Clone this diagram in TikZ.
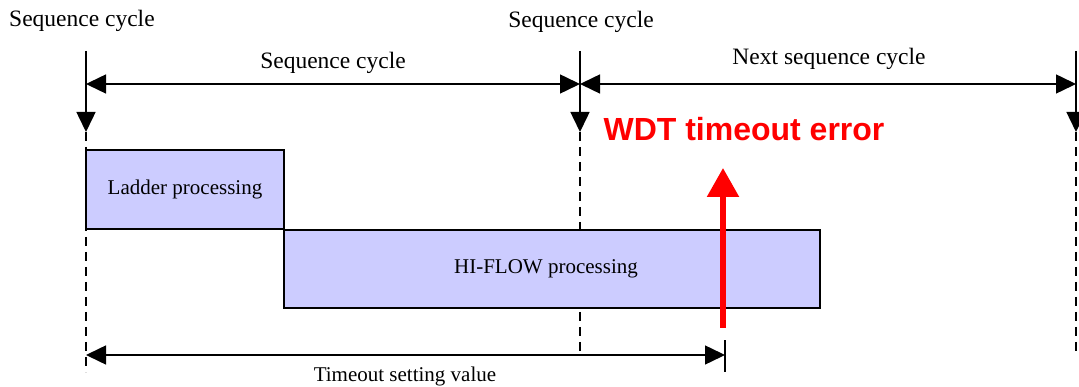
\documentclass[tikz,border=0pt]{standalone}
\usepackage{fontspec}
\setmainfont{Liberation Serif}
\newfontfamily\wdtfont{Liberation Sans}
\usetikzlibrary{arrows.meta}
\definecolor{procfill}{HTML}{CCCCFF}
\definecolor{wdtred}{HTML}{FF0000}
\begin{document}
\begin{tikzpicture}[x=1pt,y=-1pt,
 ln/.style={line width=1.5pt},
 dashln/.style={line width=1.3pt,dash pattern=on 9pt off 6pt},
 downtip/.style={-{Triangle[length=20pt,width=19pt]}},
 dtip/.style={{Triangle[length=20pt,width=19pt]}-{Triangle[length=20pt,width=19pt]}},
 proc/.style={draw,line width=1.5pt,fill=procfill,inner sep=0pt,font=\fontsize{21}{24}\selectfont},
 lbl/.style={inner sep=0pt,font=\fontsize{23.5}{26}\selectfont},
 slbl/.style={inner sep=0pt,font=\fontsize{21}{24}\selectfont}]
\useasboundingbox (0,0) rectangle (1079,387);
% coordinates
\coordinate (Ltop) at (86,51);
\coordinate (Ltip) at (86,132);
\coordinate (Lbot) at (86,372);
\coordinate (Mtop) at (580,51);
\coordinate (Mtip) at (580,132);
\coordinate (Mbot) at (580,355);
\coordinate (Rtop) at (1076,51);
\coordinate (Rtip) at (1076,132);
\coordinate (Rbot) at (1076,355);
\coordinate (HL) at (86,84);
\coordinate (HM) at (580,84);
\coordinate (HR) at (1076,84);
\coordinate (TL) at (86,355);
\coordinate (TR) at (725,355);
\coordinate (Ttop) at (725,340);
\coordinate (Tbot) at (725,372);
\coordinate (Ebot) at (723,328);
\coordinate (Etip) at (723,168);
% dashed lines
\draw[dashln] (Ltip) -- (Lbot);
\draw[dashln] (Mtip) -- (Mbot);
\draw[dashln] (Rtip) -- (Rbot);
% vertical solid arrows
\draw[ln,downtip] (Ltop) -- (Ltip);
\draw[ln,downtip] (Mtop) -- (Mtip);
\draw[ln,downtip] (Rtop) -- (Rtip);
% horizontal cycle arrows
\draw[ln,dtip] (HL) -- (HM);
\draw[ln,dtip] (HM) -- (HR);
% boxes
\node[proc,minimum width=198pt,minimum height=79pt] (ladder) at (185,189.5) {Ladder processing};
\node[proc,minimum width=536pt,minimum height=78pt] (hiflow) at (552,269) {};
\node[slbl] (hiflowtxt) at (546,269) {HI-FLOW processing};
% timeout arrow
\draw[ln] (Ttop) -- (Tbot);
\draw[ln,dtip] (TL) -- (TR);
% red arrow
\draw[wdtred,line width=5.5pt,-{Triangle[length=29pt,width=31pt]}] (Ebot) -- (Etip);
% labels
\node[lbl,anchor=base west] (sc1) at (9,27) {Sequence cycle};
\node[lbl,anchor=base] (sc2) at (581,28) {Sequence cycle};
\node[lbl,anchor=base] (sc3) at (333,69) {Sequence cycle};
\node[lbl,anchor=base] (nsc) at (829,65) {Next sequence cycle};
\node[inner sep=0pt,anchor=base,text=wdtred,font=\wdtfont\bfseries\fontsize{32}{36}\selectfont] (wdt) at (744,141) {WDT timeout error};
\node[slbl,anchor=base] (tsv) at (405,381) {Timeout setting value};
\end{tikzpicture}
\end{document}
